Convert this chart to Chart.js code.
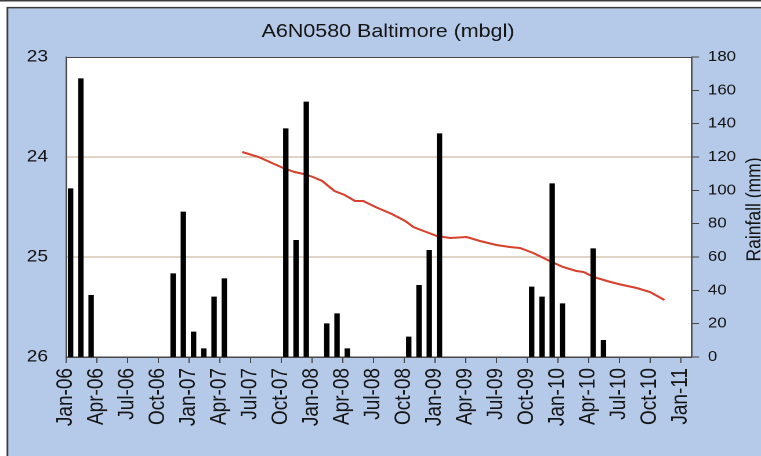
<!DOCTYPE html>
<html>
<head>
<meta charset="utf-8">
<script src="https://cdn.jsdelivr.net/npm/chart.js@4/dist/chart.umd.min.js"></script>
<style>
  html, body { margin: 0; padding: 0; background: #ffffff; overflow: hidden; }
  #wrap { position: absolute; left: 0; top: 0; width: 656px; height: 456px; transform: scaleX(1.16); transform-origin: 0 0; }
</style>
</head>
<body>
<div id="wrap"><canvas id="c"></canvas></div>
<script>
// ---- data ----
const chartTitle = 'A6N0580 Baltimore (mbgl)';
const rightAxisTitle = 'Rainfall (mm)';
const tickLabels = ['Jan-06','Apr-06','Jul-06','Oct-06','Jan-07','Apr-07','Jul-07','Oct-07','Jan-08','Apr-08','Jul-08','Oct-08','Jan-09','Apr-09','Jul-09','Oct-09','Jan-10','Apr-10','Jul-10','Oct-10','Jan-11'];

// monthly rainfall (mm)
const rainMonths = ['Jan-06','Feb-06','Mar-06','Nov-06','Dec-06','Jan-07','Feb-07','Mar-07','Apr-07','Oct-07','Nov-07','Dec-07','Feb-08','Mar-08','Apr-08','Oct-08','Nov-08','Dec-08','Jan-09','Oct-09','Nov-09','Dec-09','Jan-10','Apr-10','May-10'];
const rainValues = [101, 167, 37, 50, 87, 15, 5, 36, 47, 137, 70, 153, 20, 26, 5, 12, 43, 64, 134, 42, 36, 104, 32, 65, 10];

// groundwater level (mbgl); time in months since Jan-06
const levelMonths = [17.2, 18.8, 20.1, 21.2, 22.3, 23.2, 24.1, 25.0, 26.2, 27.2, 28.2, 29.0, 30.2, 31.8, 33.1, 33.9, 34.9, 36.2, 37.5, 39.1, 40.4, 42.0, 43.3, 44.3, 45.6, 47.2, 48.5, 49.8, 50.5, 51.5, 52.8, 53.9, 55.7, 57.0, 58.4];
const levelValues = [23.95, 24.00, 24.06, 24.11, 24.15, 24.17, 24.20, 24.24, 24.34, 24.38, 24.44, 24.44, 24.50, 24.57, 24.64, 24.70, 24.74, 24.79, 24.81, 24.80, 24.84, 24.88, 24.90, 24.91, 24.96, 25.04, 25.10, 25.14, 25.15, 25.20, 25.24, 25.27, 25.31, 25.35, 25.43];

// ---- helpers ----
const MONTHS = ['Jan','Feb','Mar','Apr','May','Jun','Jul','Aug','Sep','Oct','Nov','Dec'];
function monthIndex(label) {
  const [m, y] = label.split('-');
  return (parseInt(y, 10) - 6) * 12 + MONTHS.indexOf(m);
}
const rainData = rainMonths.map((m, i) => ({ x: monthIndex(m) + 0.45, y: rainValues[i] }));
const levelData = levelMonths.map((m, i) => ({ x: m, y: levelValues[i] }));

const FONT = '"Liberation Sans", Arial, sans-serif';
const BLUE = '#b5c9e8';
const DARK = '#474747';
const GRID = '#c6a890';

const framePlugin = {
  id: 'frame',
  beforeDraw(chart) {
    const ctx = chart.ctx, a = chart.chartArea, W = chart.width, H = chart.height;
    ctx.save();
    ctx.fillStyle = '#ffffff';
    ctx.fillRect(0, 0, W, H);
    ctx.fillStyle = BLUE;
    ctx.fillRect(6, 7, W, H);
    ctx.strokeStyle = '#3c3c3c';
    ctx.lineWidth = 1.5;
    ctx.beginPath();
    ctx.moveTo(0, 0.75); ctx.lineTo(W, 0.75);
    ctx.stroke();
    ctx.beginPath();
    ctx.moveTo(6.4, H + 2); ctx.lineTo(6.4, 7.6); ctx.lineTo(W + 2, 7.6);
    ctx.stroke();
    ctx.fillStyle = '#ffffff';
    ctx.fillRect(a.left, a.top, a.right - a.left, a.bottom - a.top);
    ctx.restore();
  },
  afterDraw(chart) {
    const ctx = chart.ctx, a = chart.chartArea;
    ctx.save();
    ctx.strokeStyle = DARK;
    ctx.lineWidth = 1;
    ctx.strokeRect(a.left + 0.5, a.top + 0.5, a.right - a.left - 1, a.bottom - a.top);
    ctx.fillStyle = '#151515';
    ctx.font = '17.5px ' + FONT;
    ctx.textAlign = 'center';
    ctx.textBaseline = 'middle';
    ctx.translate(650.8, 209.5);
    ctx.rotate(-Math.PI / 2);
    ctx.fillText(rightAxisTitle, 0, 0);
    ctx.restore();
  }
};

new Chart(document.getElementById('c'), {
  type: 'bar',
  data: {
    datasets: [
      {
        type: 'bar',
        label: 'Rainfall',
        data: rainData,
        yAxisID: 'y1',
        backgroundColor: '#000000',
        borderWidth: 0,
        barThickness: 4,
        order: 0
      },
      {
        type: 'line',
        label: 'Level',
        data: levelData,
        yAxisID: 'y',
        borderColor: '#d8402c',
        borderWidth: 2,
        pointRadius: 0,
        tension: 0,
        fill: false,
        order: 1
      }
    ]
  },
  options: {
    responsive: true,
    maintainAspectRatio: false,
    animation: false,
    devicePixelRatio: 2,
    layout: { padding: { left: 13, right: 0, top: 0, bottom: 0 } },
    plugins: {
      legend: { display: false },
      tooltip: { enabled: false },
      title: {
        display: true,
        text: chartTitle,
        color: '#151515',
        font: { family: FONT, size: 18.5, weight: 'normal' },
        padding: { top: 20.6, bottom: 14.2 }
      }
    },
    scales: {
      x: {
        type: 'linear',
        min: 0,
        max: 61.1,
        offset: false,
        grid: { offset: false, drawOnChartArea: false, drawTicks: true, tickLength: 6, tickColor: DARK, lineWidth: 1 },
        border: { display: true, color: DARK, width: 1 },
        ticks: {
          stepSize: 3,
          includeBounds: false,
          autoSkip: false,
          minRotation: 90,
          maxRotation: 90,
          padding: 5,
          color: '#151515',
          font: { family: FONT, size: 19 },
          callback: (v) => tickLabels[Math.round(v / 3)]
        },
        afterFit: (s) => { s.height = 99; }
      },
      y: {
        type: 'linear',
        position: 'left',
        reverse: true,
        min: 23,
        max: 26,
        grid: {
          drawTicks: false,
          lineWidth: 1,
          color: (c) => (c.tick && (c.tick.value === 24 || c.tick.value === 25)) ? GRID : 'rgba(0,0,0,0)'
        },
        border: { display: true, color: DARK, width: 1 },
        ticks: {
          stepSize: 1,
          padding: 15.5,
          color: '#151515',
          font: { family: FONT, size: 16.5 }
        },
        afterFit: (s) => { s.width = 43.9; }
      },
      y1: {
        type: 'linear',
        position: 'right',
        min: 0,
        max: 180,
        grid: { drawOnChartArea: false, drawTicks: true, tickLength: 6, tickColor: DARK, lineWidth: 1 },
        border: { display: true, color: DARK, width: 1 },
        ticks: {
          stepSize: 20,
          padding: 7.7,
          color: '#151515',
          font: { family: FONT, size: 14.5 }
        },
        afterFit: (s) => { s.width = 59.4; }
      }
    }
  },
  plugins: [framePlugin]
});
</script>
</body>
</html>
